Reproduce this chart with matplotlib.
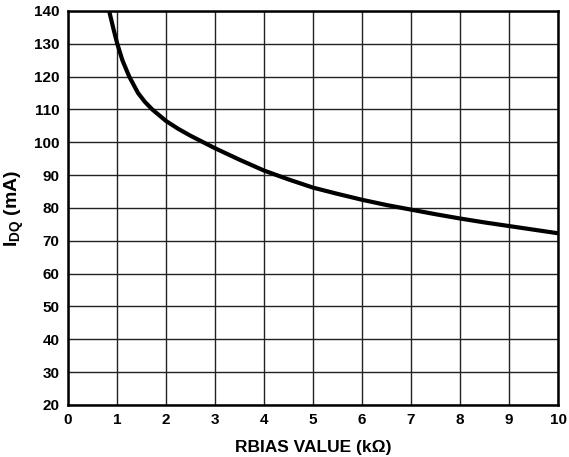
import matplotlib
matplotlib.use("Agg")
import matplotlib.pyplot as plt

plt.rcParams['font.family'] = ['Liberation Sans', 'DejaVu Sans']
plt.rcParams['font.weight'] = 'bold'
plt.rcParams['mathtext.fontset'] = 'custom'
plt.rcParams['mathtext.rm'] = 'Liberation Sans:bold'
plt.rcParams['mathtext.it'] = 'Liberation Sans:bold'
plt.rcParams['mathtext.bf'] = 'Liberation Sans:bold'

# values
rbias = [0.84, 0.92, 1.0, 1.11, 1.25, 1.43, 1.57, 1.72, 2.0, 2.25, 2.5, 3.0, 3.5, 4.0,
         4.5, 5.0, 5.5, 6.0, 6.5, 7.0, 7.5, 8.0, 8.5, 9.0, 9.5, 10.0]
idq = [140, 135, 130.3, 125, 120, 115, 112.3, 110, 106.5, 104.1, 102.0, 98.2, 94.7, 91.4,
       88.7, 86.2, 84.3, 82.5, 80.9, 79.5, 78.1, 76.8, 75.6, 74.5, 73.4, 72.3]

x_ticks = list(range(0, 11))
y_ticks = list(range(20, 141, 10))

fig = plt.figure(figsize=(5.69, 4.57), dpi=100)
ax = fig.add_axes([0.1195, 0.1138, 0.8612, 0.8622])

ax.plot(rbias, idq, color='black', linewidth=3.0, solid_joinstyle='round', zorder=3)

ax.set_xlim(0, 10)
ax.set_ylim(20, 140)
ax.set_xticks(x_ticks)
ax.set_yticks(y_ticks)
ax.grid(True, color='#222222', linewidth=1.0)
ax.tick_params(length=0, pad=6, labelsize=11)
for s in ax.spines.values():
    s.set_linewidth(1.8)

ax.set_xlabel('RBIAS VALUE (k\u03a9)', fontsize=12.5, fontweight='bold', labelpad=9)
ax.set_ylabel(r'$I_{DQ}$ (mA)', fontsize=14, fontweight='bold', labelpad=6)

fig.savefig('out.png', dpi=100, facecolor='white')
